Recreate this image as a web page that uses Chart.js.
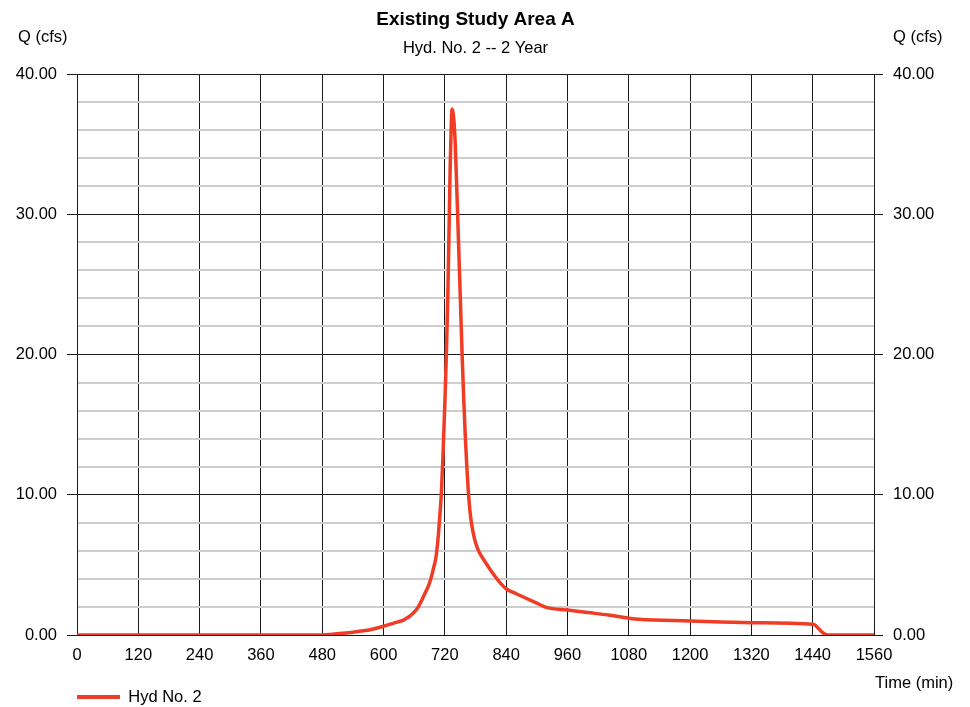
<!DOCTYPE html>
<html>
<head>
<meta charset="utf-8">
<script src="https://cdn.jsdelivr.net/npm/chart.js@4.4.1/dist/chart.umd.min.js"></script>
<style>
  html, body { margin: 0; padding: 0; background: #ffffff; }
  #wrap { width: 970px; height: 707px; position: relative; }
</style>
</head>
<body>
<div id="wrap"><canvas id="c" width="970" height="707"></canvas></div>
<script>
// ---- Data ----
const chartTitle = "Existing Study Area A";
const chartSubtitle = "Hyd. No. 2 -- 2 Year";
const seriesName = "Hyd No. 2";
const yAxisLabel = "Q (cfs)";
const xAxisLabel = "Time (min)";

const timeMin = [0, 480, 500, 520, 540, 560, 574, 600, 620, 640, 658, 668, 675, 682, 688, 694, 698, 702, 706, 710, 713, 716, 720, 723, 726, 728.5, 730.5, 732.5, 734, 737, 740, 742, 745, 748, 751, 754, 757, 760, 763, 766, 769, 772, 776, 780, 786, 792, 800, 810, 820, 830, 840, 860, 880, 900, 920, 960, 1000, 1040, 1080, 1100, 1200, 1320, 1440, 1447, 1453, 1459, 1465, 1470, 1560];
const flowCfs = [0, 0, 0.05, 0.12, 0.2, 0.3, 0.38, 0.62, 0.85, 1.08, 1.55, 2.0, 2.5, 3.05, 3.5, 4.2, 4.8, 5.4, 6.6, 8.4, 10.0, 12.5, 16.5, 20.0, 24.5, 29.5, 33.5, 36.3, 37.5, 37.0, 35.3, 33.3, 30.0, 26.6, 23.2, 19.8, 16.8, 14.2, 12.0, 10.2, 8.9, 8.0, 7.2, 6.6, 6.0, 5.6, 5.15, 4.6, 4.1, 3.65, 3.3, 2.94, 2.6, 2.27, 1.95, 1.78, 1.6, 1.42, 1.2, 1.12, 1.0, 0.88, 0.76, 0.64, 0.4, 0.18, 0.04, 0, 0];

const xMin = 0, xMax = 1560, xStep = 120;
const yMin = 0, yMax = 40, yStep = 2, yMajor = 10;

// ---- Styles ----
const FONT = '"Liberation Sans", Arial, sans-serif';
const lineColor = '#f03c24';
const majorColor = '#1a1a1a';
const minorColor = '#cdcdcd';

const points = timeMin.map((t, i) => ({ x: t, y: flowCfs[i] }));

const isMajor = v => Math.abs(v % yMajor) < 1e-9;

const extraText = {
  id: 'extraText',
  afterDraw(chart) {
    const ctx = chart.ctx;
    ctx.save();
    ctx.fillStyle = '#000';
    ctx.font = '16.5px ' + FONT;
    ctx.textBaseline = 'middle';
    ctx.textAlign = 'left';
    ctx.fillText(yAxisLabel, 18, 37);
    ctx.fillText(yAxisLabel, 893, 37);
    ctx.fillText(xAxisLabel, 875, 683);
    ctx.restore();
  }
};

new Chart(document.getElementById('c'), {
  type: 'line',
  data: {
    datasets: [{
      label: seriesName,
      data: points,
      borderColor: lineColor,
      backgroundColor: lineColor,
      borderWidth: 3.5,
      pointRadius: 0,
      cubicInterpolationMode: 'monotone',
      fill: false,
      yAxisID: 'y'
    }]
  },
  options: {
    responsive: false,
    animation: false,
    devicePixelRatio: 1,
    layout: { padding: { left: 0, right: 0, top: 0, bottom: -8.25 } },
    plugins: {
      title: {
        display: true,
        text: chartTitle,
        color: '#000',
        fullSize: false,
        font: { family: FONT, size: 19, weight: 'bold', lineHeight: 1.2 },
        padding: { top: 8.6, bottom: 0 }
      },
      subtitle: {
        display: true,
        text: chartSubtitle,
        color: '#000',
        fullSize: false,
        font: { family: FONT, size: 16.5, weight: 'normal', lineHeight: 1.2 },
        padding: { top: 6.7, bottom: 16.1 }
      },
      legend: {
        display: true,
        position: 'bottom',
        align: 'start',
        fullSize: false,
        labels: {
          color: '#000',
          font: { family: FONT, size: 16.5 },
          boxWidth: 43,
          boxHeight: 4,
          padding: 0,
          generateLabels(chart) {
            return chart.data.datasets.map((ds, i) => ({
              text: ds.label,
              fillStyle: ds.borderColor,
              strokeStyle: ds.borderColor,
              lineWidth: 0,
              hidden: false,
              datasetIndex: i,
              fontColor: '#000'
            }));
          }
        }
      },
      tooltip: { enabled: false }
    },
    scales: {
      x: {
        type: 'linear',
        position: 'bottom',
        min: xMin,
        max: xMax,
        afterFit(scale) { scale.height = 53.75; },
        ticks: {
          stepSize: xStep,
          autoSkip: false,
          maxRotation: 0,
          padding: 11,
          color: '#000',
          font: { family: FONT, size: 16.5 },
          callback: v => String(v)
        },
        grid: {
          color: majorColor,
          lineWidth: 1,
          drawTicks: false
        },
        border: { display: true, color: majorColor, width: 1 }
      },
      y: {
        type: 'linear',
        position: 'left',
        min: yMin,
        max: yMax,
        afterFit(scale) { scale.width = 77; },
        ticks: {
          stepSize: yStep,
          autoSkip: false,
          padding: 10,
          color: '#000',
          font: { family: FONT, size: 16.5 },
          callback: v => isMajor(v) ? v.toFixed(2) : ''
        },
        grid: {
          color: ctx => isMajor(ctx.tick.value) ? majorColor : minorColor,
          lineWidth: ctx => isMajor(ctx.tick.value) ? 1 : 2,
          tickColor: ctx => isMajor(ctx.tick.value) ? majorColor : 'rgba(0,0,0,0)',
          tickLength: 10,
          drawTicks: true
        },
        border: { display: true, color: majorColor, width: 1 }
      },
      y2: {
        type: 'linear',
        position: 'right',
        min: yMin,
        max: yMax,
        afterFit(scale) { scale.width = 970 - 874; },
        ticks: {
          stepSize: yStep,
          autoSkip: false,
          padding: 10,
          color: '#000',
          font: { family: FONT, size: 16.5 },
          callback: v => isMajor(v) ? v.toFixed(2) : ''
        },
        grid: {
          drawOnChartArea: false,
          tickColor: ctx => isMajor(ctx.tick.value) ? majorColor : 'rgba(0,0,0,0)',
          tickLength: 9,
          drawTicks: true
        },
        border: { display: true, color: majorColor, width: 1 }
      }
    }
  },
  plugins: [extraText]
});
</script>
</body>
</html>
